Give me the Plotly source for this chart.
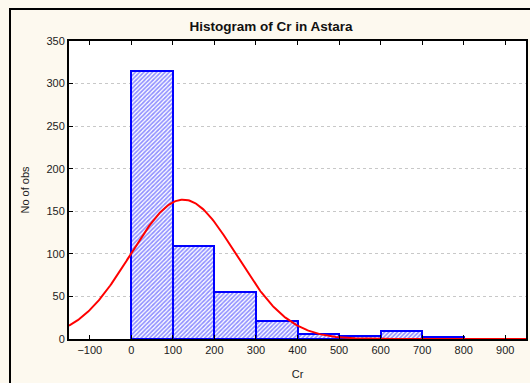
import numpy as np
import plotly.graph_objects as go

# Histogram data
bin_starts = [0, 100, 200, 300, 400, 500, 600, 700]
bin_width = 100
counts = [315, 109, 55, 21, 6, 4, 9, 2]

# Expected-normal fit parameters
fit_mean = 125
fit_sd = 127
n_obs = sum(counts)

x_ticks = [-100, 0, 100, 200, 300, 400, 500, 600, 700, 800, 900]
y_ticks = [0, 50, 100, 150, 200, 250, 300, 350]

mids = [s + bin_width / 2 for s in bin_starts]
xc = np.linspace(-150, 950, 400)
yc = n_obs * bin_width / (fit_sd * np.sqrt(2 * np.pi)) * np.exp(-((xc - fit_mean) ** 2) / (2 * fit_sd ** 2))

fig = go.Figure()
fig.add_trace(go.Bar(
    x=mids, y=counts, width=[bin_width] * len(mids),
    marker=dict(color="white", line=dict(color="#0000ff", width=2),
                pattern=dict(shape="/", fgcolor="#2020ff", bgcolor="white", size=3, solidity=0.55)),
    showlegend=False,
))
fig.add_trace(go.Scatter(x=xc, y=yc, mode="lines", line=dict(color="#ff0000", width=2), showlegend=False))

L, R, T, B = 69, 4, 41, 44
W, H = 530, 383
pw = W - L - R
ph = H - T - B

def px_to_paper_x(p):
    return (p - L) / pw

def px_to_paper_y(p):
    return (H - B - p) / ph

fig.update_layout(
    width=W, height=H,
    margin=dict(l=L, r=R, t=T, b=B, autoexpand=False),
    paper_bgcolor="#fdf9ef",
    plot_bgcolor="white",
    bargap=0,
    font=dict(family="Liberation Sans, Arial, sans-serif", size=11, color="#222222"),
    title=dict(text="<b>Histogram of Cr in Astara</b>", x=271 / W, xanchor="center",
               y=1 - 26 / H, yanchor="middle", font=dict(size=13.5, color="#111111"),
               automargin=False),
    xaxis=dict(range=[-150, 950], tickvals=x_ticks, ticks="inside", ticklen=4, tickcolor="black",
               showline=True, linecolor="black", linewidth=2, mirror="ticks", showgrid=False,
               zeroline=False, automargin=False, title=dict(text="Cr", font=dict(size=11))),
    yaxis=dict(range=[0, 350], tickvals=y_ticks, ticks="inside", ticklen=4, tickcolor="black",
               showline=True, linecolor="black", linewidth=2, mirror=True, showgrid=True,
               gridcolor="#c8c8c8", griddash="dot", gridwidth=1, zeroline=False, automargin=False,
               title=dict(text="No of obs", font=dict(size=11))),
    shapes=[dict(type="rect", xref="paper", yref="paper",
                 x0=px_to_paper_x(10), x1=px_to_paper_x(560),
                 y0=px_to_paper_y(420), y1=px_to_paper_y(9),
                 line=dict(color="black", width=2), fillcolor="rgba(0,0,0,0)", layer="below")],
)

fig.write_html("out.html", config={"displayModeBar": False},
               post_script="document.body.style.margin='0';document.body.style.background='#fdf9ef';")
